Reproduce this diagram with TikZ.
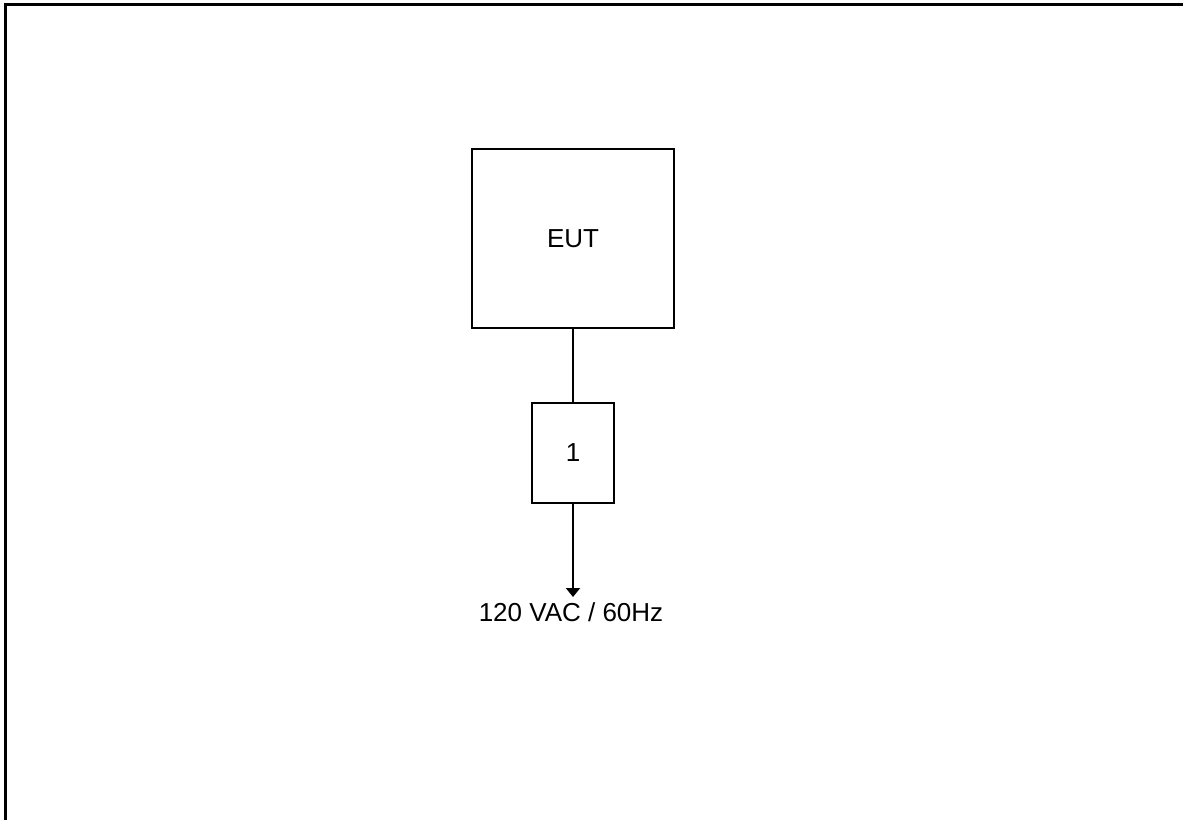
\documentclass[tikz,border=0pt]{standalone}
\usepackage{fontspec}
\setmainfont{Liberation Sans}
\usetikzlibrary{arrows.meta,positioning}
\tikzset{
  unitbox/.style={rectangle, draw=black, line width=1pt, fill=white, align=center, font=\fontsize{13}{15}\selectfont, inner sep=0pt},
  wire/.style={line width=1pt, black},
  lbl/.style={inner sep=0pt, font=\fontsize{13}{15}\selectfont, align=center}
}
\begin{document}
\begin{tikzpicture}[x=0.5pt, y=-0.5pt]
    \useasboundingbox (0,0) rectangle (1183,820);
    % frame
    \draw[line width=1.5pt] (1183,4.5) -- (5,4.5) -- (5,820);

    \node[unitbox, minimum width=101pt, minimum height=89.5pt] (eut) at (573,238.5) {EUT};
    \node[unitbox, minimum width=41pt, minimum height=50pt] (one) at (573,453) {1};
    \coordinate (plug) at (573,597);
    \node[lbl, anchor=base] (ac) at (571,621) {120 VAC / 60Hz};

    \draw[wire] (eut) -- (one);
    \draw[wire, -{Triangle[width=7pt, length=4.5pt]}] (one) -- (plug);
\end{tikzpicture}
\end{document}
